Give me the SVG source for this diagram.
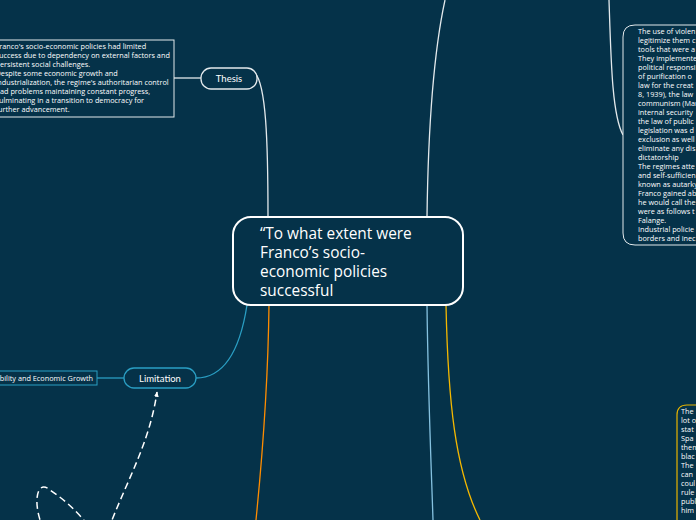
<svg xmlns="http://www.w3.org/2000/svg" width="696" height="520" viewBox="0 0 696 520">
<defs>
<style>
.bg{fill:#053249}
.t{font-family:"Open Sans","Noto Sans","Liberation Sans",sans-serif;fill:#ffffff}
.small{font-size:7.3px}
.lbl{font-family:Lato,"Open Sans",sans-serif;font-size:9.5px;text-anchor:middle}
.main{font-size:15.4px}
.cw{fill:none;stroke:#e3e9ec;stroke-width:1.3}
.ct{fill:none;stroke:#2a9ec3;stroke-width:1.3}
</style>
<marker id="ah" viewBox="0 0 10 10" refX="8" refY="5" markerWidth="6" markerHeight="6" orient="auto-start-reverse" markerUnits="userSpaceOnUse">
<path d="M0,1 L9,5 L0,9 Z" fill="#ffffff"/>
</marker>
</defs>
<rect class="bg" x="0" y="0" width="696" height="520"/>

<g id="connectors">
<path class="cw" d="M427,217 C428,140 432,60 445,0"/>
<path class="cw" d="M609,0 C611,60 612,115 623,135"/>
<path class="cw" d="M174,78 L201,78"/>
<path class="cw" d="M255,73 C266,85 268,140 268,217"/>
<path class="ct" d="M196,378 C225,378 240,350 247,305"/>
<path class="ct" d="M97,378 L124,378"/>
<path fill="none" stroke="#ff8c00" stroke-width="1.3" d="M269,305 C268,390 262,460 256,520"/>
<path fill="none" stroke="#86c2e0" stroke-width="1.3" d="M427,305 C428,390 431,460 433,520"/>
<path fill="none" stroke="#f5b800" stroke-width="1.3" d="M446,305 C448,400 455,470 480,520"/>
<path fill="none" stroke="#ffffff" stroke-width="1.5" stroke-dasharray="7,4" marker-end="url(#ah)" d="M44,530 C32,505 36,478 50,490 C65,500 78,512 92,530 C98,538 106,538 112,520 C130,475 150,440 157,392"/>
</g>

<g id="center">
<rect x="233" y="217" width="230" height="88" rx="18" fill="#053249" stroke="#ffffff" stroke-width="2"/>
<text class="t main"><tspan x="260" y="239">“To what extent were</tspan><tspan x="260" y="258">Franco’s socio-</tspan><tspan x="260" y="277">economic policies</tspan><tspan x="260" y="296">successful</tspan></text>
</g>

<g id="thesis">
<rect x="201" y="68" width="56" height="21" rx="10" fill="#053249" stroke="#e3e9ec" stroke-width="1.3"/>
<text class="t lbl" x="229" y="82">Thesis</text>
</g>

<g id="thesis-text">
<rect x="-2" y="40" width="176" height="77" fill="#053249" stroke="#e3e9ec" stroke-width="1"/>
<text class="t small"><tspan x="-4.5" y="49">Franco's socio-economic policies had limited</tspan><tspan x="-4.5" y="58">success due to dependency on external factors and</tspan><tspan x="-4.5" y="67">persistent social challenges.</tspan><tspan x="-4.5" y="76">Despite some economic growth and</tspan><tspan x="-4.5" y="85">industrialization, the regime's authoritarian control</tspan><tspan x="-4.5" y="94">had problems maintaining constant progress,</tspan><tspan x="-4.5" y="103">culminating in a transition to democracy for</tspan><tspan x="-4.5" y="112">further advancement.</tspan></text>
</g>

<g id="limitation">
<rect x="124" y="368" width="72" height="20" rx="10" fill="#053249" stroke="#2a9ec3" stroke-width="1.3"/>
<text class="t lbl" x="160" y="381.5">Limitation</text>
</g>

<g id="stability">
<rect x="-2" y="371" width="99" height="14" fill="#053249" stroke="#2a9ec3" stroke-width="1"/>
<text class="t small" x="93" y="380.5" text-anchor="end">Stability and Economic Growth</text>
</g>

<g id="right-text">
<path d="M696,25 L635,25 Q623,25 623,37 L623,233 Q623,245 635,245 L696,245" fill="#053249" stroke="#e3e9ec" stroke-width="1"/>
<text class="t small"><tspan x="638" y="34">The use of violen</tspan><tspan x="638" y="43">legitimize them c</tspan><tspan x="638" y="52">tools that were a</tspan><tspan x="638" y="61">They implemente</tspan><tspan x="638" y="70">political responsi</tspan><tspan x="638" y="79">of purification o</tspan><tspan x="638" y="88">law for the creat</tspan><tspan x="638" y="97">8, 1939), the law</tspan><tspan x="638" y="106">communism (Mar</tspan><tspan x="638" y="115">internal security</tspan><tspan x="638" y="124">the law of public</tspan><tspan x="638" y="133">legislation was d</tspan><tspan x="638" y="142">exclusion as well</tspan><tspan x="638" y="151">eliminate any dis</tspan><tspan x="638" y="160">dictatorship</tspan><tspan x="638" y="169">The regimes atte</tspan><tspan x="638" y="178">and self-sufficien</tspan><tspan x="638" y="187">known as autarky</tspan><tspan x="638" y="196">Franco gained ab</tspan><tspan x="638" y="205">he would call the</tspan><tspan x="638" y="214">were as follows t</tspan><tspan x="638" y="223">Falange.</tspan><tspan x="638" y="232">Industrial policie</tspan><tspan x="638" y="241">borders and inec</tspan></text>
</g>

<g id="bottom-right-text">
<path d="M696,405 L687,405 Q677,405 677,415 L677,530" fill="#053249" stroke="#e8b400" stroke-width="1.2"/>
<text class="t small"><tspan x="681" y="414">The</tspan><tspan x="681" y="423">lot o</tspan><tspan x="681" y="432">stat</tspan><tspan x="681" y="441">Spa</tspan><tspan x="681" y="450">them</tspan><tspan x="681" y="459">blac</tspan><tspan x="681" y="468">The</tspan><tspan x="681" y="477">can</tspan><tspan x="681" y="486">coul</tspan><tspan x="681" y="495">rule</tspan><tspan x="681" y="504">publ</tspan><tspan x="681" y="513">him</tspan></text>
</g>
</svg>
